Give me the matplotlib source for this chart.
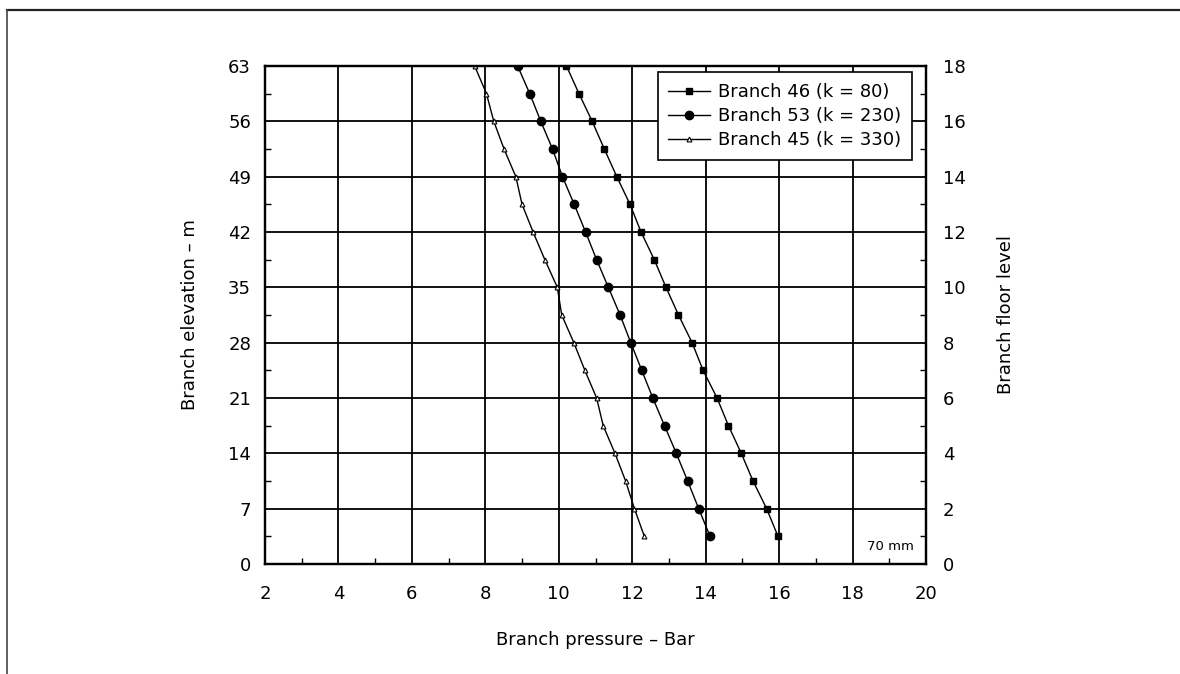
import matplotlib
matplotlib.use("Agg")
import matplotlib.pyplot as plt
from matplotlib.ticker import MultipleLocator
from matplotlib.lines import Line2D

plt.rcParams['font.family'] = ['DejaVu Sans']

# Branch floor levels and elevations (m)
floors = [1, 2, 3, 4, 5, 6, 7, 8, 9, 10, 11, 12, 13, 14, 15, 16, 17, 18]
elevation = [3.5, 7, 10.5, 14, 17.5, 21, 24.5, 28, 31.5, 35, 38.5, 42, 45.5, 49, 52.5, 56, 59.5, 63]

# Branch pressure (bar)
branch46 = [15.97, 15.66, 15.29, 14.97, 14.62, 14.31, 13.93, 13.63, 13.26,
            12.92, 12.60, 12.24, 11.94, 11.58, 11.24, 10.91, 10.55, 10.21]
branch53 = [14.12, 13.81, 13.51, 13.20, 12.88, 12.56, 12.26, 11.96, 11.67,
            11.35, 11.03, 10.73, 10.42, 10.10, 9.83, 9.51, 9.21, 8.88]
branch45 = [12.33, 12.06, 11.82, 11.53, 11.21, 11.03, 10.71, 10.41, 10.08,
            9.96, 9.62, 9.30, 9.00, 8.83, 8.51, 8.23, 8.03, 7.71]

labels = ["Branch 46 (k = 80)", "Branch 53 (k = 230)", "Branch 45 (k = 330)"]

x_ticks = [2, 4, 6, 8, 10, 12, 14, 16, 18, 20]
y_ticks = [0, 7, 14, 21, 28, 35, 42, 49, 56, 63]
floor_ticks = [0, 2, 4, 6, 8, 10, 12, 14, 16, 18]

FS = 13

fig = plt.figure(figsize=(11.8, 6.74), dpi=100)

# outer frame lines (top and left)
fig.add_artist(Line2D([7/1180, 1.0], [1 - 10/674, 1 - 10/674], color='#222222', lw=1.6,
                      transform=fig.transFigure))
fig.add_artist(Line2D([7/1180, 7/1180], [1 - 10/674, 0.0], color='#444444', lw=1.2,
                      transform=fig.transFigure))

ax = fig.add_axes([265/1180, 1 - 564/674, (926 - 265)/1180, (564 - 66)/674])

ax.plot(branch46, elevation, color='black', lw=1.0, marker='s', ms=4.5,
        mfc='black', mec='black', label=labels[0])
ax.plot(branch53, elevation, color='black', lw=1.0, marker='o', ms=6,
        mfc='black', mec='black', label=labels[1])
ax.plot(branch45, elevation, color='black', lw=1.0, marker='^', ms=3.5,
        mfc='white', mec='black', mew=0.8, label=labels[2])

ax.set_xlim(2, 20)
ax.set_ylim(0, 63)
ax.set_xticks(x_ticks)
ax.set_yticks(y_ticks)
ax.xaxis.set_minor_locator(MultipleLocator(1))
ax.yaxis.set_minor_locator(MultipleLocator(3.5))
ax.grid(True, which='major', color='black', lw=1.3)
ax.set_axisbelow(True)
ax.tick_params(axis='x', which='major', length=0, labelsize=FS, pad=15)
ax.tick_params(axis='y', which='major', length=0, labelsize=FS, pad=10)
ax.tick_params(which='minor', direction='in', length=4, width=1, color='black')
for s in ax.spines.values():
    s.set_linewidth(1.6)
    s.set_color('black')

ax.set_xlabel("Branch pressure – Bar", fontsize=FS, labelpad=20)
ax.set_ylabel("Branch elevation – m", fontsize=FS, labelpad=21)

ax2 = ax.twinx()
ax2.set_ylim(0, 18)
ax2.set_yticks(floor_ticks)
ax2.yaxis.set_minor_locator(MultipleLocator(1))
ax2.tick_params(which='major', length=0, labelsize=FS, pad=12)
ax2.tick_params(which='minor', direction='in', length=4, width=1, color='black')
ax2.set_ylabel("Branch floor level", fontsize=FS, labelpad=23)
for s in ax2.spines.values():
    s.set_linewidth(1.6)
    s.set_color('black')

leg = ax.legend(loc='upper right', bbox_to_anchor=((912 - 265) / 661, (564 - 72) / 498),
                fontsize=FS, frameon=True, fancybox=False,
                edgecolor='black', framealpha=1, handlelength=2.3,
                borderaxespad=0.0, labelspacing=0.35, handletextpad=0.45,
                borderpad=0.6)
leg.get_frame().set_linewidth(1.2)
leg.set_zorder(5)

ax.text(0.982, 0.022, "70 mm", transform=ax.transAxes, ha='right', va='bottom',
        fontsize=9.5)

fig.savefig("out.png", dpi=100)
